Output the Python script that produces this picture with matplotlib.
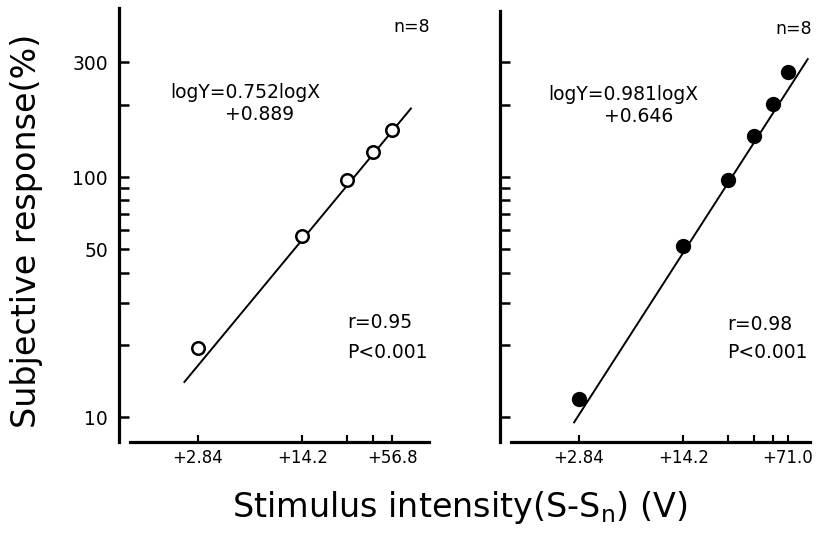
import numpy as np
import matplotlib
matplotlib.use("Agg")
import matplotlib.pyplot as plt

# x positions are multiples of the 14.2 V step
x_left = [2.84, 14.2, 28.4, 42.6, 56.8]
y_left = [19.4, 56.8, 97.0, 127.0, 157.0]
x_right = [2.84, 14.2, 28.4, 42.6, 56.8, 71.0]
y_right = [11.9, 51.6, 97.0, 148.0, 201.0, 274.0]

# regression line end points, as drawn
fit_left_x = [2.3, 76.0]
fit_left_y = [14.0, 193.0]
fit_right_x = [2.63, 97.0]
fit_right_y = [9.5, 310.0]

y_ticks = [10, 20, 30, 40, 50, 60, 70, 80, 90, 100, 200, 300]
y_labels = ["10", "", "", "", "50", "", "", "", "", "100", "", "300"]
x_ticks_left = [2.84, 14.2, 28.4, 42.6, 56.8]
x_labels_left = ["+2.84", "+14.2", "", "", "+56.8"]
x_ticks_right = [2.84, 14.2, 28.4, 42.6, 56.8, 71.0]
x_labels_right = ["+2.84", "+14.2", "", "", "", "+71.0"]

W, H = 816, 534
fig = plt.figure(figsize=(W / 100, H / 100), dpi=100)


def make_axes(x0, x1, y0, y1):
    return fig.add_axes([x0 / W, 1 - y1 / H, (x1 - x0) / W, (y1 - y0) / H])


def style(ax, xt, xl, show_ylabels):
    ax.set_xscale("log")
    ax.set_yscale("log")
    ax.set_xlim(0.838, 102)
    ax.set_ylim(7.87, 506)
    for s in ("top", "right"):
        ax.spines[s].set_visible(False)
    ax.spines["left"].set_linewidth(2.3)
    ax.spines["bottom"].set_linewidth(2.3)
    ax.spines["bottom"].set_bounds(1.0, 100)
    ax.minorticks_off()
    ax.set_yticks(y_ticks, y_labels if show_ylabels else [""] * len(y_ticks))
    ax.set_xticks(xt, xl)
    ax.tick_params(axis="y", direction="in", length=7, width=1.8,
                   labelsize=13.5, pad=8)
    ax.tick_params(axis="x", direction="in", length=5, width=1.5,
                   labelsize=12, pad=5)
    ax.patch.set_alpha(0)


ax1 = make_axes(119, 430, 8, 442)
style(ax1, x_ticks_left, x_labels_left, True)
ax1.plot(fit_left_x, fit_left_y, color="black", lw=1.4)
ax1.plot(x_left, y_left, "o", ms=9, mfc="white", mec="black", mew=1.8)

ax2 = make_axes(500, 811, 8, 442)
style(ax2, x_ticks_right, x_labels_right, False)
ax2.spines["left"].set_bounds(7.87, 490)
ax2.plot(fit_right_x, fit_right_y, color="black", lw=1.4)
ax2.plot(x_right, y_right, "o", ms=10, mfc="black", mec="black")

txt = dict(fontsize=13.5, color="black")
fig.text(430 / W, 1 - 27 / H, "n=8", ha="right", va="center", fontsize=12.5)
fig.text(245 / W, 1 - 92 / H, "logY=0.752logX", ha="center", va="center", **txt)
fig.text(260 / W, 1 - 115 / H, "+0.889", ha="center", va="center", **txt)
fig.text(347 / W, 1 - 322 / H, "r=0.95", ha="left", va="center", **txt)
fig.text(347 / W, 1 - 352 / H, "P<0.001", ha="left", va="center", **txt)

fig.text(812 / W, 1 - 29 / H, "n=8", ha="right", va="center", fontsize=12.5)
fig.text(623 / W, 1 - 95 / H, "logY=0.981logX", ha="center", va="center", **txt)
fig.text(639 / W, 1 - 117 / H, "+0.646", ha="center", va="center", **txt)
fig.text(727 / W, 1 - 325 / H, "r=0.98", ha="left", va="center", **txt)
fig.text(727 / W, 1 - 353 / H, "P<0.001", ha="left", va="center", **txt)

fig.text(27 / W, 1 - 231 / H, "Subjective response(%)", rotation=90,
         ha="center", va="center", fontsize=24)
fig.text(460 / W, 1 - 508 / H, r"Stimulus intensity(S-S$_{\mathregular{n}}$) (V)",
         ha="center", va="center", fontsize=24)

fig.savefig("out.png", dpi=100)
